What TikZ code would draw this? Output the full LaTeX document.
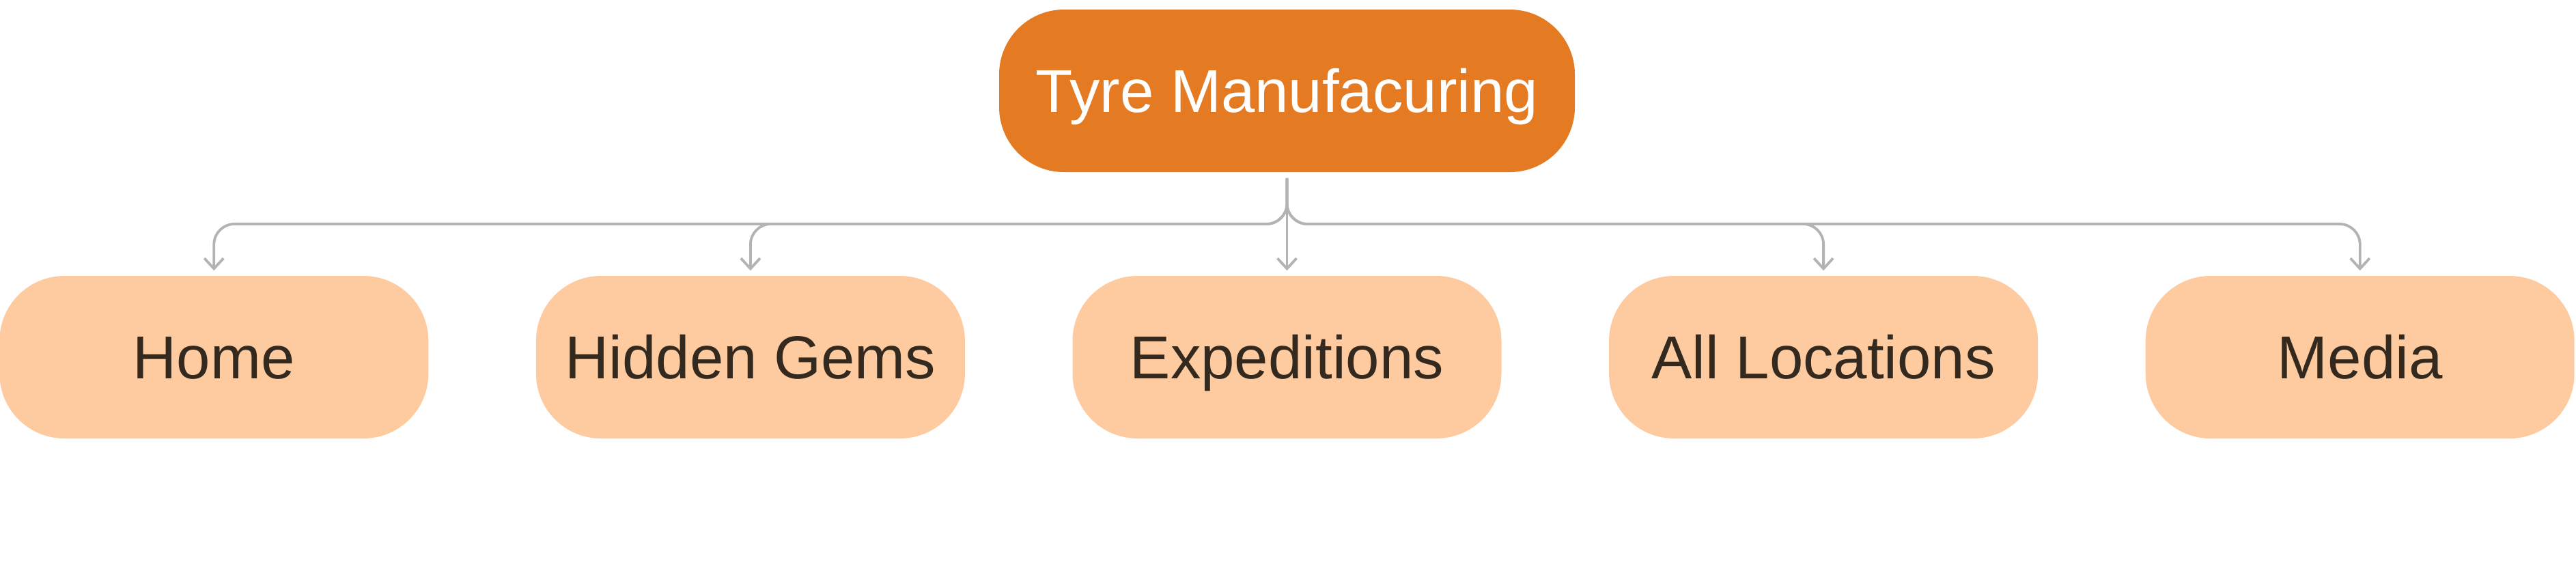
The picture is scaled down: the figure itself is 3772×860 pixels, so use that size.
\documentclass[tikz,border=0pt]{standalone}
\usepackage{fontspec}
\setmainfont{Liberation Sans}
\usetikzlibrary{arrows.meta,calc}
\definecolor{rootorange}{HTML}{E47A22}
\definecolor{pagepeach}{HTML}{FECBA0}
\definecolor{labeldark}{HTML}{33291F}
\definecolor{linkgray}{HTML}{B3B3B3}
\begin{document}
\begin{tikzpicture}[x=0.25pt, y=0.25pt, font=\fontsize{22.2}{26}\selectfont]
\tikzstyle{level 1}=[level distance=97.5pt, sibling distance=196.4pt]
\tikzstyle{mainbox}=[fill=rootorange, text=white, rounded corners=23.75pt, minimum width=210.75pt, minimum height=59.5pt, inner sep=0pt, text height=15.8pt, text depth=0pt]
\tikzstyle{pagebox}=[fill=pagepeach, text=labeldark, rounded corners=23.75pt, minimum width=157pt, minimum height=59.5pt, inner sep=0pt, text height=15.8pt, text depth=0pt]
\tikzstyle{link}=[draw=linkgray, line width=0.95pt, -{Straight Barb[length=3.8pt,width=7pt]}, shorten <=2pt, shorten >=1.75pt, rounded corners=7.5pt]

\useasboundingbox (0,0) rectangle (3772,-860);
\node[mainbox] (tyre) at (1884.5,-133) {Tyre Manufacuring}[grow=down,
    edge from parent/.style={link},
    edge from parent path={(\tikzparentnode.south) |- ($(\tikzparentnode.south)!.5!(\tikzchildnode.north)$) -| (\tikzchildnode.north)}]
  child {node[pagebox] (home) {Home}}
  child {node[pagebox] (gems) {Hidden Gems}}
  child[edge from parent path={(\tikzparentnode.south) -- (\tikzchildnode.north)}] {node[pagebox] (expeditions) {Expeditions}}
  child {node[pagebox] (locations) {All Locations}}
  child {node[pagebox] (media) {Media}};
\end{tikzpicture}
\end{document}
